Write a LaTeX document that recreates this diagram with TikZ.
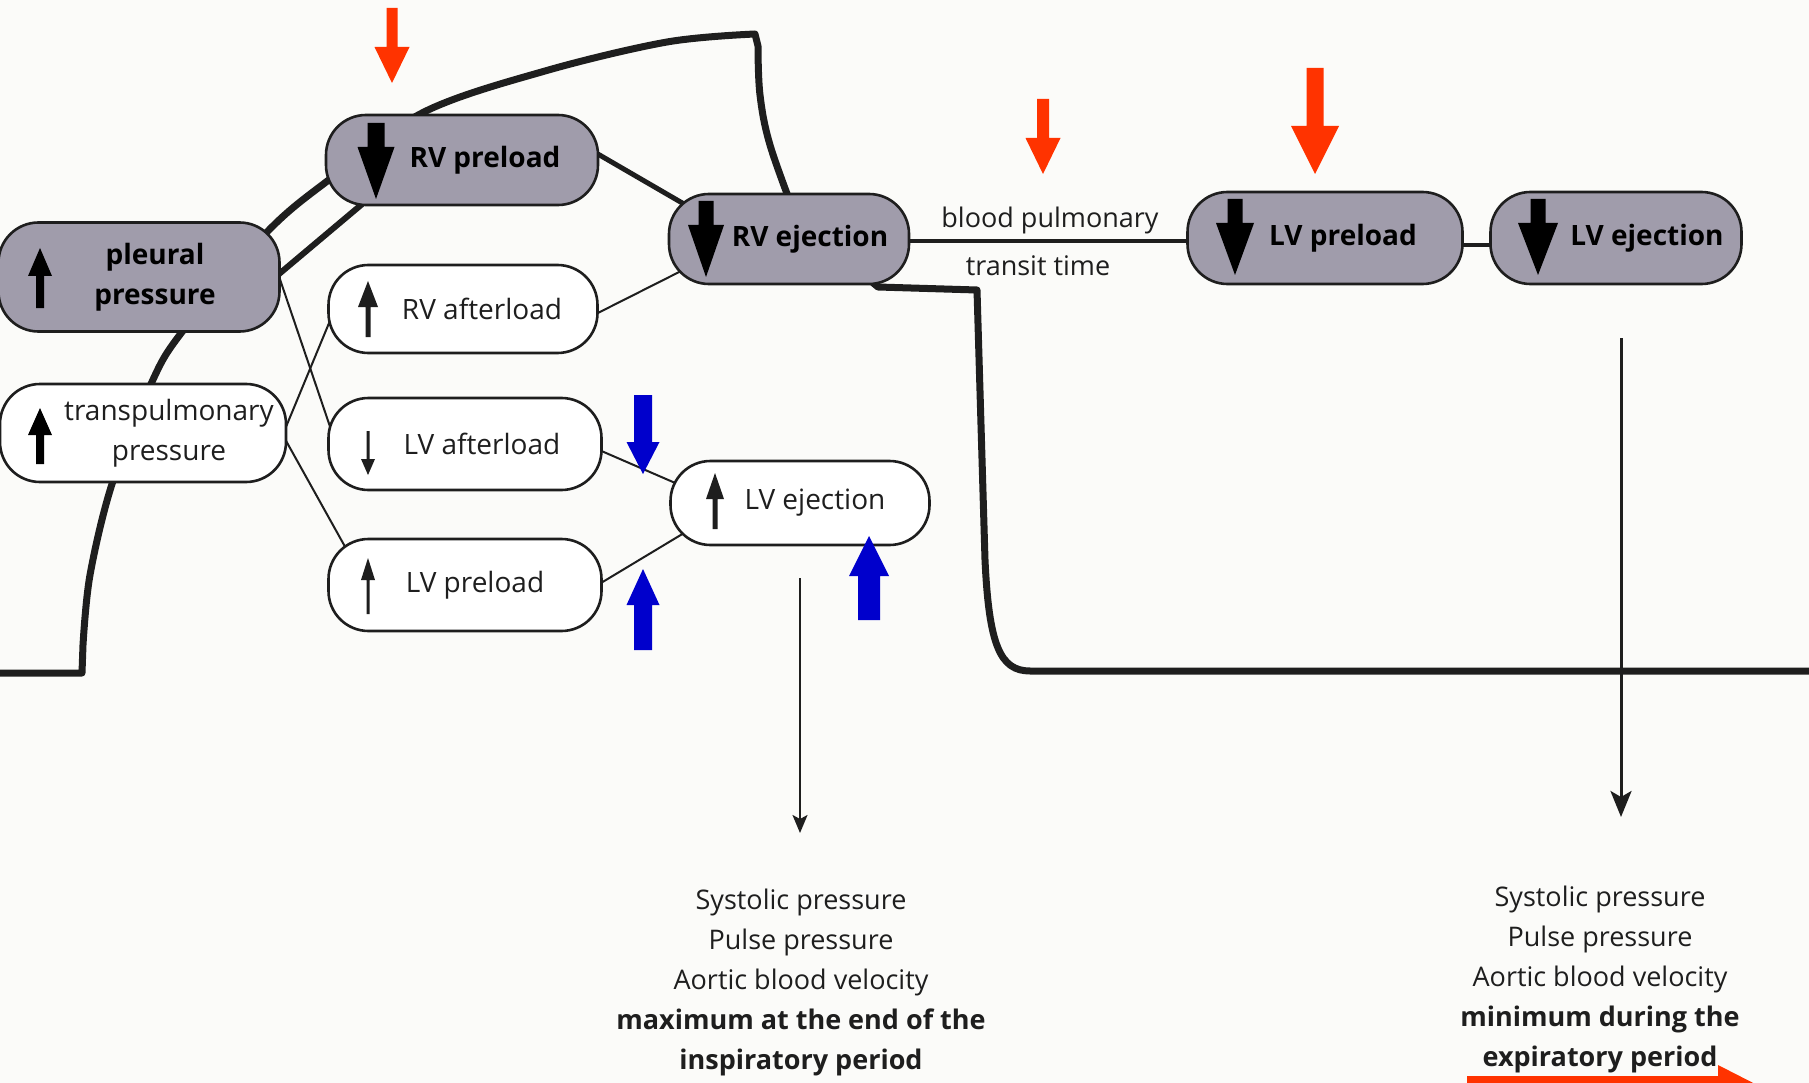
\documentclass[tikz,border=0pt]{standalone}
\usepackage{fontspec}
\setmainfont{Open Sans}
\usetikzlibrary{backgrounds,arrows.meta}
\definecolor{ink}{HTML}{1E1E1E}
\definecolor{shadefill}{RGB}{160,156,171}
\definecolor{redarr}{HTML}{FF3300}
\definecolor{bluearr}{HTML}{0000CC}
\definecolor{paper}{RGB}{251,251,249}
% vertical block arrow: x, ytail, ytip, shaft width, head width, head length, colour
\newcommand\blockarrow[7]{%
  \pgfmathsetmacro\arwA{#1-#4/2}\pgfmathsetmacro\arwB{#1+#4/2}%
  \pgfmathsetmacro\arwC{#1-#5/2}\pgfmathsetmacro\arwD{#1+#5/2}%
  \pgfmathsetmacro\arwS{2*(#3>#2)-1}%
  \pgfmathsetmacro\arwE{#3-\arwS*#6}%
  \fill[#7] (\arwA,#2) -- (\arwA,\arwE) -- (\arwC,\arwE) -- (#1,#3) -- (\arwD,\arwE) -- (\arwB,\arwE) -- (\arwB,#2) -- cycle;}
\begin{document}
\begin{tikzpicture}[x=1pt,y=-1pt,
  box/.style={draw=ink, line width=2.6pt, rounded corners=40pt, inner sep=0pt,
    font=\fontsize{28}{40}\selectfont, text=ink, align=center},
  dark/.style={box, fill=shadefill, font=\fontsize{28}{40}\selectfont\bfseries, text=black},
  light/.style={box, fill=white},
  lbl/.style={font=\fontsize{27}{40}\selectfont, text=ink, inner sep=0pt, align=center},
  thickline/.style={line width=6pt, draw=ink},
  midline/.style={line width=4pt, draw=ink},
  thinline/.style={line width=2pt, draw=ink},
  wave/.style={line width=7pt, draw=ink, line join=round},
]
\useasboundingbox (0,0) rectangle (1809,1083);
\clip (0,0) rectangle (1809,1083);

% nodes
\node[dark, minimum width=281pt, minimum height=109pt] (pleural) at (139,277) {\hspace*{32pt}pleural\\\hspace*{32pt}pressure};
\node[dark, minimum width=272pt, minimum height=90pt] (rvpre) at (462,160) {\hspace*{46pt}RV preload};
\node[dark, minimum width=240pt, minimum height=90pt] (rvej) at (789,239) {\hspace*{42pt}RV ejection};
\node[dark, minimum width=275pt, minimum height=92pt] (lvpreS) at (1325,238) {\hspace*{36pt}LV preload};
\node[dark, minimum width=251pt, minimum height=92pt] (lvejS) at (1616,238) {\hspace*{62pt}LV ejection};
\node[light, minimum width=269pt, minimum height=88pt] (rvaft) at (463,309) {\hspace*{38pt}RV afterload};
\node[light, minimum width=286pt, minimum height=98pt] (transp) at (143,433) {\hspace*{52pt}transpulmonary\\\hspace*{52pt}pressure};
\node[light, minimum width=273pt, minimum height=92pt] (lvaft) at (465,444) {\hspace*{34pt}LV afterload};
\node[light, minimum width=273pt, minimum height=92pt] (lvpreW) at (465,585) {\hspace*{20pt}LV preload};
\node[light, minimum width=259pt, minimum height=84pt] (lvejW) at (800,503) {\hspace*{30pt}LV ejection};

\node[lbl] (bp1) at (1050,220) {blood pulmonary};
\node[lbl] (bp2) at (1038,266) {transit time};

\node[lbl] (resL) at (801,982) {Systolic pressure\\Pulse pressure\\Aortic blood velocity\\\textbf{maximum at the end of the}\\\textbf{inspiratory period}};
\node[lbl] (resR) at (1600,979) {Systolic pressure\\Pulse pressure\\Aortic blood velocity\\\textbf{minimum during the}\\\textbf{expiratory period}};

\coordinate (endL) at (800,833);
\coordinate (endR) at (1621,817);

\begin{pgfonlayer}{background}
  \fill[paper] (0,0) rectangle (1809,1083);
  % pressure wave
  \draw[wave] (0,673) -- (82,673) -- plot[smooth,tension=0.55] coordinates {(83,645) (90,575) (112,484) (151,384) (182,332) (267,232) (330,179) (424,112) (545,71) (667,42) (755,34)}
     -- plot[smooth,tension=0.6] coordinates {(758,46) (760,95) (770,145) (795,215)};
  \draw[wave] (860,272) -- (878,287) -- (977,290) -- (985,560) .. controls (989,645) and (1000,671) .. (1030,671) -- (1809,671);
  % connectors
  \draw[thickline] ([shift={(102,29)}]pleural.center) -- ([shift={(-57,8)}]rvpre.center);
  \draw[thickline, line width=5pt] ([shift={(91,-32)}]rvpre.center) -- ([shift={(-74,-17)}]rvej.center);
  \draw[midline] ([shift={(0,2)}]rvej.center) -- ([shift={(0,3)}]lvpreS.center);
  \draw[midline] ([shift={(0,7)}]lvpreS.center) -- ([shift={(0,7)}]lvejS.center);
  \draw[thinline] ([shift={(130,-30)}]pleural.center) -- ([shift={(-125,12)}]lvaft.center);
  \draw[thinline] ([shift={(133,18)}]transp.center) -- ([shift={(-124,-10)}]rvaft.center);
  \draw[thinline] ([shift={(137,-3)}]transp.center) -- ([shift={(-112,-24)}]lvpreW.center);
  \draw[thinline] ([shift={(117,13)}]rvaft.center) -- ([shift={(-90,23)}]rvej.center);
  \draw[thinline] ([shift={(118,-1)}]lvaft.center) -- ([shift={(-104,-11)}]lvejW.center);
  \draw[thinline] ([shift={(121,7)}]lvpreW.center) -- ([shift={(-101,21)}]lvejW.center);
\end{pgfonlayer}

% result arrows
\draw[line width=2pt, draw=ink, -{Stealth[length=18pt,width=15pt,inset=4pt]}] ([shift={(0,32)}]lvejW.south) -- (endL);
\draw[line width=3pt, draw=ink, -{Stealth[length=26pt,width=21pt,inset=6pt]}] ([shift={(5,53)}]lvejS.south) -- (endR);

% arrow glyphs inside nodes
\blockarrow{40}{308}{248}{8}{24}{28}{black}
\blockarrow{40}{464}{408}{8}{24}{27}{black}
\blockarrow{376}{123}{199}{17}{37}{52}{black}
\blockarrow{706}{201}{277}{15}{36}{52}{black}
\blockarrow{1235}{199}{275}{15}{38}{52}{black}
\blockarrow{1538}{199}{275}{15}{40}{52}{black}
\blockarrow{368}{337}{281}{5}{20}{26}{ink}
\blockarrow{368}{431}{475}{3}{14}{16}{ink}
\blockarrow{368}{614}{558}{3}{14}{22}{ink}
\blockarrow{715}{529}{473}{5}{18}{26}{ink}

% coloured arrows
\blockarrow{392}{8}{83}{11}{35}{36}{redarr}
\blockarrow{1043}{99}{174}{12}{35}{36}{redarr}
\blockarrow{1315}{68}{174}{17}{48}{48}{redarr}
\blockarrow{643}{395}{474}{18}{33}{32}{bluearr}
\blockarrow{643}{650}{569}{18}{33}{36}{bluearr}
\blockarrow{869}{620}{536}{22}{40}{40}{bluearr}
\fill[redarr] (1467,1076) -- (1718,1076) -- (1718,1065) -- (1763,1088) -- (1718,1111) -- (1718,1100) -- (1467,1100) -- cycle;
\end{tikzpicture}
\end{document}
